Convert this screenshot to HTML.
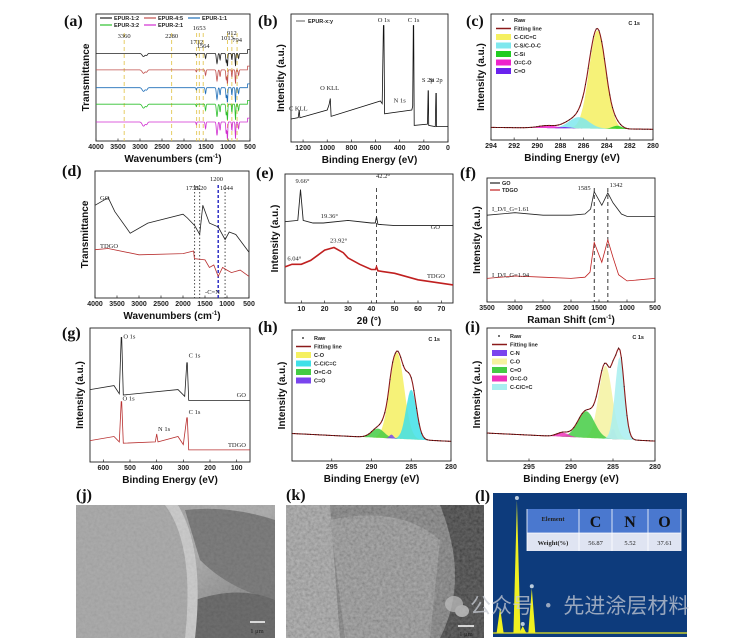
<!DOCTYPE html>
<html><head><meta charset="utf-8"><style>
html,body{margin:0;padding:0;background:#fff;}
svg{display:block;font-family:"Liberation Sans",Arial,sans-serif;}
.tk{font-size:7px;font-weight:bold;fill:#222;}
.ttl{font-size:10px;font-weight:bold;fill:#111;}
.lt{font-family:"Liberation Serif",serif;font-size:16px;font-weight:bold;fill:#111;}
.an{font-family:"Liberation Serif",serif;font-size:6.5px;fill:#222;}
.lg{font-size:5.5px;font-weight:bold;fill:#222;}
</style></head><body>
<svg id="fig" width="751" height="644" viewBox="0 0 751 644">
<defs>
<filter id="grain" x="0" y="0" width="100%" height="100%"><feTurbulence type="fractalNoise" baseFrequency="0.35" numOctaves="3" seed="4"/><feColorMatrix type="saturate" values="0"/><feComponentTransfer><feFuncA type="linear" slope="0" intercept="1"/></feComponentTransfer></filter>
<linearGradient id="jg" x1="0" y1="0" x2="1" y2="1"><stop offset="0" stop-color="#9a9a9a"/><stop offset="0.5" stop-color="#a8a8a8"/><stop offset="1" stop-color="#6a6a6a"/></linearGradient>
</defs>
<rect width="751" height="644" fill="#fff"/>
</svg>
<script>
// ---------- DATA ----------
// (a) FTIR EPUR
const aSeries=['EPUR-1:2','EPUR-4:5','EPUR-1:1','EPUR-3:2','EPUR-2:1'];
const aOffsets=[0.69,0.56,0.42,0.29,0.15];
const aDipPos=[2920,2850,1720,1510,1250,1180,1040,1013,912,830,760];
const aDipDepth=[0.025,0.015,0.015,0.04,0.08,0.05,0.07,0.1,0.05,0.1,0.04];
const aDipWidth=[30,20,8,10,14,10,10,8,8,8,10];
const aMarks=[3360,2280,1712,1653,1564,1013,912,794];
const aTicks=[4000,3500,3000,2500,2000,1500,1000,500];
// (b) XPS survey EPUR
const bX=[1300,1240,1232,1226,1000,985,975,968,560,545,535,531,525,300,292,287,284,280,170,165,162,160,105,100,97,95,0];
const bY=[0.18,0.19,0.25,0.19,0.25,0.29,0.34,0.2,0.32,0.3,0.91,0.91,0.22,0.25,0.28,0.91,0.91,0.13,0.14,0.4,0.4,0.13,0.12,0.38,0.38,0.12,0.12];
const bTicks=[1200,1000,800,600,400,200,0];
// (c) C1s EPUR
const cNames=['C-C/C=C','C-S/C-O-C','C-Si','O=C-O','C=O'];
const cCenters=[284.8,286.4,283.1,289.1,287.6];
const cHeights=[0.78,0.09,0.025,0.02,0.01];
const cWidths=[0.72,0.85,0.4,0.8,0.5];
const cTicks=[294,292,290,288,286,284,282,280];
// (d) FTIR GO/TDGO
const dGOx=[4000,3700,3550,3200,2800,2000,1900,1735,1620,1550,1400,1200,1044,950,800,500];
const dGOy=[0.73,0.79,0.68,0.51,0.59,0.66,0.63,0.57,0.5,0.73,0.59,0.56,0.46,0.52,0.5,0.36];
const dTDx=[4000,3700,3000,2000,1760,1740,1500,1400,1300,1200,1100,1000,900,700,500];
const dTDy=[0.38,0.39,0.34,0.35,0.37,0.31,0.3,0.24,0.26,0.17,0.24,0.22,0.2,0.22,0.17];
const dMarks=[1735,1620,1200,1044];
const dTicks=[4000,3500,3000,2500,2000,1500,1000,500];
// (e) XRD
const eGOx=[3,8.5,9.66,10.8,15,19.4,30,40,41.7,42.2,42.8,50,60,75];
const eGOy=[0.63,0.64,0.88,0.64,0.62,0.62,0.64,0.62,0.62,0.67,0.61,0.6,0.6,0.6];
const eTDx=[3,6,10,14,17,20,24,28,30,35,40,41.8,42.2,42.8,50,60,75];
const eTDy=[0.28,0.3,0.3,0.33,0.37,0.41,0.43,0.39,0.35,0.3,0.26,0.26,0.28,0.25,0.23,0.18,0.14];
const eTicks=[10,20,30,40,50,60,70];
// (f) Raman
const fGOx=[3500,3000,2500,2000,1750,1650,1585,1450,1342,1250,1100,1000,500];
const fGOy=[0.7,0.72,0.7,0.7,0.71,0.75,0.89,0.78,0.88,0.8,0.71,0.69,0.69];
const fTDx=[3500,3000,2500,2000,1750,1660,1585,1450,1342,1250,1150,1000,500];
const fTDy=[0.19,0.21,0.2,0.19,0.2,0.24,0.48,0.32,0.5,0.36,0.22,0.17,0.19];
const fTicks=[3500,3000,2500,2000,1500,1000,500];
// (g) Survey GO/TDGO
const gGOx=[650,560,540,533,531,525,320,295,287,285,280,50];
const gGOy=[0.54,0.57,0.51,0.93,0.93,0.5,0.54,0.49,0.74,0.74,0.46,0.46];
const gTDx=[650,560,540,533,531,525,405,400,395,320,300,287,285,280,50];
const gTDy=[0.16,0.19,0.15,0.45,0.45,0.14,0.15,0.21,0.15,0.19,0.13,0.33,0.33,0.09,0.09];
const gTicks=[600,500,400,300,200,100];
// (h) C1s GO
const hNames=['C-O','C-C/C=C','O=C-O','C=O'];
const hCenters=[286.8,285.0,289.2,287.5];
const hHeights=[0.66,0.38,0.07,0.03];
const hWidths=[0.9,0.65,0.8,0.25];
const hTicks=[295,290,285,280];
// (i) C1s TDGO
const iNames=['C-N','C-O','C=O','O=C-O','C-C/C=C'];
const iCenters=[285.0,285.9,288.2,291.0,284.2];
const iHeights=[0.08,0.55,0.2,0.03,0.62];
const iWidths=[0.25,0.8,1.0,0.7,0.55];
const iTicks=[295,290,285,280];
// (l) EDS
const lElements=['C','N','O'];
const lWeights=['56.87','5.52','37.61'];
const lPeakE=[0.11,0.37,0.46,0.6];
const lPeakH=[0.18,0.95,0.05,0.32];

// ---------- HELPERS ----------
const NS='http://www.w3.org/2000/svg';
const svg=document.getElementById('fig');
function mk(tag,attrs,parent){const e=document.createElementNS(NS,tag);for(const k in attrs)e.setAttribute(k,attrs[k]);(parent||svg).appendChild(e);return e;}
function txt(s,x,y,cls,parent,anchor){const t=mk('text',{x:x,y:y,class:cls,'text-anchor':anchor||'start'},parent);t.textContent=s;return t;}
function gauss(x,c,h,w){return h*Math.exp(-0.5*((x-c)/w)*((x-c)/w));}
function panel(p){
  const g=mk('g',{});
  
  
  const sx=v=>p.x0+(v-p.xmin)/(p.xmax-p.xmin)*(p.x1-p.x0);
  const sy=f=>p.y1-f*(p.y1-p.y0);
  const fr=mk('rect',{x:p.x0,y:p.y0,width:p.x1-p.x0,height:p.y1-p.y0,fill:'none',stroke:'#222','stroke-width':0.9},g);
  
  
  p.ticks.forEach(t=>{
    const x=sx(t);
    mk('line',{x1:x,x2:x,y1:p.y1,y2:p.y1-2.5,stroke:'#222','stroke-width':0.7},g);
    const tl=txt(String(t),x,p.y1+8,'tk',g,'middle');
    
    
  });
  if(p.xtitle){const xt=txt(p.xtitle,(p.x0+p.x1)/2,p.y1+21,'ttl',g,'middle');
    
    
    if(p.sup){xt.textContent=p.xtitle;const ts=mk('tspan',{'font-size':'6','dy':'-4'},xt);ts.textContent=p.sup;const t2=mk('tspan',{'dy':'4'},xt);t2.textContent=')';}}
  const yt=txt(p.ytitle,0,0,'ttl',g,'middle');
  yt.setAttribute('transform','translate('+(p.x0-7)+','+((p.y0+p.y1)/2)+') rotate(-90)');
  
  
  const lt=txt(p.letter,p.lx,p.ly,'lt',g);
  
  
  return {g,sx,sy};
}
function poly(g,xs,ys,sx,sy,color,w,name){
  const pts=xs.map((x,i)=>sx(x).toFixed(1)+','+sy(ys[i]).toFixed(1)).join(' ');
  const l=mk('polyline',{points:pts,fill:'none',stroke:color,'stroke-width':w||0.8},g);
  
  
  return l;
}
function vline(g,x,y0,y1,color,dash,w,name){
  const l=mk('line',{x1:x,x2:x,y1:y0,y2:y1,stroke:color,'stroke-width':w||0.8,'stroke-dasharray':dash},g);
  
  
}
function xps(P,centers,heights,widths,colors,names,base0,base1,xmin,xmax){
  const N=120;const xs=[];for(let i=0;i<=N;i++)xs.push(xmin+(xmax-xmin)*i/N);
  const base=x=>base0+(base1-base0)*(x-xmin)/(xmax-xmin);
  const total=xs.map(x=>base(x)+centers.reduce((s,c,k)=>s+gauss(x,c,heights[k],widths[k]),0));
  centers.forEach((c,k)=>{
    let d='M'+P.sx(xs[0])+','+P.sy(base(xs[0]));
    xs.forEach(x=>{d+=' L'+P.sx(x).toFixed(1)+','+P.sy(base(x)+gauss(x,c,heights[k],widths[k])).toFixed(1);});
    for(let i=N;i>=0;i--)d+=' L'+P.sx(xs[i]).toFixed(1)+','+P.sy(base(xs[i])).toFixed(1);
    const a=mk('path',{d:d+'Z',fill:colors[k],'fill-opacity':0.85,stroke:'none'},P.g);
    
    
  });
  poly(P.g,xs,total,P.sx,P.sy,'#8b1a1a',1.1,'fitting-line');
  xs.forEach((x,i)=>{if(i%2===0){const d=mk('circle',{cx:P.sx(x),cy:P.sy(total[i]),r:0.5,fill:'#111'},P.g);}});
}
function xpsLegend(P,x,y,names,colors){
  const it=[['Raw',null],['Fitting line','line']].concat(names.map((n,k)=>[n,colors[k]]));
  it.forEach((e,i)=>{
    const yy=y+i*8.5;
    const g=mk('g',{},P.g);
    
    
    if(e[1]===null)mk('circle',{cx:x+7,cy:yy-2,r:0.9,fill:'#111'},g);
    else if(e[1]==='line')mk('line',{x1:x,x2:x+15,y1:yy-2,y2:yy-2,stroke:'#8b1a1a','stroke-width':1.5},g);
    else mk('rect',{x:x,y:yy-5,width:15,height:6,fill:e[1]},g);
    txt(e[0],x+18,yy,'lg',g);
  });
}

// ---------- (a) ----------
(function(){
  const P=panel({name:'panel-a-ftir-epur',x0:96,x1:250,y0:14,y1:141,xmin:4000,xmax:500,ticks:aTicks,xtitle:'Wavenumbers (cm',sup:'-1',ytitle:'Transmittance',letter:'(a)',lx:64,ly:26});
  const colors=['#222','#c0504d','#1f6fb8','#2ec02e','#d12fd1'];
  aMarks.forEach(m=>vline(P.g,P.sx(m),33,141,'#e0c040','4,3',0.8,'reference-line-'+m));
  const labs=[[3360,'3360',38],[2280,'2280',38],[1712,'1712',44],[1653,'1653',30],[1564,'1564',48],[1013,'1013',40],[912,'912',35],[794,'794',42]];
  labs.forEach(l=>{const t=txt(l[1],P.sx(l[0]),l[2],'an',P.g,'middle');});
  const xs=[];for(let w=4000;w>=500;w-=5)xs.push(w);
  aSeries.forEach((s,k)=>{
    const ys=xs.map(x=>aOffsets[k]-aDipPos.reduce((a,c,j)=>a+gauss(x,c,aDipDepth[j]*(1+0.08*k),aDipWidth[j]),0)+(x<560?0.03:0));
    poly(P.g,xs,ys,P.sx,P.sy,colors[k],0.8,'series-'+s.toLowerCase().replace(':','-'));
  });
  aSeries.forEach((s,k)=>{
    const col=k<3?k:k-3,row=k<3?0:1;
    const x=100+col*44,y=20+row*7;
    const g=mk('g',{},P.g);
    
    
    mk('line',{x1:x,x2:x+12,y1:y-2,y2:y-2,stroke:colors[k],'stroke-width':1.2},g);
    txt(s,x+14,y,'lg',g);
  });
})();

// ---------- (b) ----------
(function(){
  const P=panel({name:'panel-b-xps-survey-epur',x0:291,x1:448,y0:14,y1:142,xmin:1300,xmax:0,ticks:bTicks,xtitle:'Binding Energy (eV)',ytitle:'Intensity (a.u.)',letter:'(b)',lx:258,ly:26});
  poly(P.g,bX,bY,P.sx,P.sy,'#111',0.8,'survey-line');
  const lg=mk('g',{},P.g);
  mk('line',{x1:296,x2:305,y1:21,y2:21,stroke:'#777','stroke-width':1.2},lg);txt('EPUR-x:y',308,23,'lg',lg);
  [['C KLL',1240,0.24],['O KLL',980,0.4],['O 1s',532,0.93],['N 1s',400,0.3],['C 1s',285,0.93],['S 2p',168,0.46],['Si 2p',100,0.46]].forEach(l=>{
    const t=txt(l[0],P.sx(l[1]),P.sy(l[2])-1,'an',P.g,'middle');});
})();

// ---------- (c) ----------
(function(){
  const P=panel({name:'panel-c-xps-c1s-epur',x0:491,x1:653,y0:14,y1:140,xmin:294,xmax:280,ticks:cTicks,xtitle:'Binding Energy (eV)',ytitle:'Intensity (a.u.)',letter:'(c)',lx:466,ly:26});
  const cols=['#f5f060','#7fe8ee','#22cc22','#ee22cc','#6a22ee'];
  xps(P,cCenters,cHeights,cWidths,cols,cNames,0.1,0.085,294,280);
  xpsLegend(P,496,22,cNames,cols);
  txt('C 1s',640,25,'lg',P.g,'end');
})();

// ---------- (d) ----------
(function(){
  const P=panel({name:'panel-d-ftir-go-tdgo',x0:95,x1:249,y0:171,y1:298,xmin:4000,xmax:500,ticks:dTicks,xtitle:'Wavenumbers (cm',sup:'-1',ytitle:'Transmittance',letter:'(d)',lx:62,ly:176});
  dMarks.forEach(m=>vline(P.g,P.sx(m),185,298,m===1200?'#2020c0':'#222',m===1200?'3,2':'1.5,2',m===1200?1.4:0.8,'reference-line-'+m));
  poly(P.g,dGOx,dGOy,P.sx,P.sy,'#222',0.8,'series-go');
  poly(P.g,dTDx,dTDy,P.sx,P.sy,'#b83030',0.8,'series-tdgo');
  [['1735',1790,190],['1620',1610,190],['1044',1010,190]].forEach(l=>{const t=txt(l[0],P.sx(l[1]),l[2],'an',P.g,'middle');});
  const b=txt('1200',P.sx(1240),181,'an',P.g,'middle');b.setAttribute('fill','#2020c0');
  txt('GO',100,200,'an',P.g);txt('TDGO',100,248,'an',P.g);txt('-C=N',P.sx(1330),294,'an',P.g,'middle');
})();

// ---------- (e) ----------
(function(){
  const P=panel({name:'panel-e-xrd',x0:285,x1:453,y0:174,y1:303,xmin:3,xmax:75,ticks:eTicks,xtitle:'2θ (°)',ytitle:'Intensity (a.u.)',letter:'(e)',lx:256,ly:178});
  vline(P.g,P.sx(42.2),188,303,'#222','4,3',0.8,'reference-line-42-2');
  poly(P.g,eGOx,eGOy,P.sx,P.sy,'#222',0.9,'series-go');
  poly(P.g,eTDx,eTDy,P.sx,P.sy,'#c02020',1.6,'series-tdgo');
  [['9.66°',10.5,0.93],['19.36°',22,0.66],['42.2°',45,0.97],['23.92°',26,0.47],['6.04°',7,0.33]].forEach(l=>{const t=txt(l[0],P.sx(l[1]),P.sy(l[2]),'an',P.g,'middle');});
  txt('GO',440,229,'an',P.g,'end');txt('TDGO',445,278,'an',P.g,'end');
})();

// ---------- (f) ----------
(function(){
  const P=panel({name:'panel-f-raman',x0:487,x1:655,y0:178,y1:302,xmin:3500,xmax:500,ticks:fTicks,xtitle:'Raman Shift (cm',sup:'-1',ytitle:'Intensity (a.u.)',letter:'(f)',lx:460,ly:178});
  vline(P.g,P.sx(1585),188,302,'#222','4,3',0.9,'reference-line-1585');
  vline(P.g,P.sx(1342),188,302,'#222','4,3',0.9,'reference-line-1342');
  poly(P.g,fGOx,fGOy,P.sx,P.sy,'#222',0.8,'series-go');
  poly(P.g,fTDx,fTDy,P.sx,P.sy,'#c02020',0.8,'series-tdgo');
  const l1=mk('g',{},P.g);
  mk('line',{x1:490,x2:500,y1:183,y2:183,stroke:'#222','stroke-width':1.2},l1);txt('GO',502,185,'lg',l1);
  const l2=mk('g',{},P.g);
  mk('line',{x1:490,x2:500,y1:190,y2:190,stroke:'#c02020','stroke-width':1.2},l2);txt('TDGO',502,192,'lg',l2);
  txt('1585',P.sx(1650),190,'an',P.g,'end');txt('1342',P.sx(1310),187,'an',P.g,'start');
  txt('I_D/I_G=1.61',492,211,'an',P.g);txt('I_D/I_G=1.94',492,277,'an',P.g);
})();

// ---------- (g) ----------
(function(){
  const P=panel({name:'panel-g-xps-survey-go-tdgo',x0:90,x1:250,y0:328,y1:462,xmin:650,xmax:50,ticks:gTicks,xtitle:'Binding Energy (eV)',ytitle:'Intensity (a.u.)',letter:'(g)',lx:62,ly:338});
  poly(P.g,gGOx,gGOy,P.sx,P.sy,'#222',0.8,'series-go');
  poly(P.g,gTDx,gTDy,P.sx,P.sy,'#b83030',0.8,'series-tdgo');
  [['O 1s',525,0.92],['C 1s',280,0.78],['O 1s',528,0.46],['N 1s',395,0.23],['C 1s',280,0.36]].forEach(l=>{const t=txt(l[0],P.sx(l[1]),P.sy(l[2]),'an',P.g,'start');});
  txt('GO',246,397,'an',P.g,'end');txt('TDGO',246,447,'an',P.g,'end');
})();

// ---------- (h) ----------
(function(){
  const P=panel({name:'panel-h-xps-c1s-go',x0:292,x1:451,y0:330,y1:461,xmin:300,xmax:280,ticks:hTicks,xtitle:'Binding Energy (eV)',ytitle:'Intensity (a.u.)',letter:'(h)',lx:258,ly:332});
  const cols=['#f5f060','#40e0e8','#44cc44','#7a44ee'];
  xps(P,hCenters,hHeights,hWidths,cols,hNames,0.21,0.15,300,280);
  xpsLegend(P,296,340,hNames,cols);
  txt('C 1s',440,341,'lg',P.g,'end');
})();

// ---------- (i) ----------
(function(){
  const P=panel({name:'panel-i-xps-c1s-tdgo',x0:487,x1:655,y0:328,y1:461,xmin:300,xmax:280,ticks:iTicks,xtitle:'Binding Energy (eV)',ytitle:'Intensity (a.u.)',letter:'(i)',lx:465,ly:332});
  const cols=['#7a44ee','#f5f2a0','#44cc44','#ee33bb','#a8eef0'];
  xps(P,iCenters,iHeights,iWidths,cols,iNames,0.21,0.15,300,280);
  xpsLegend(P,492,338,iNames,cols);
  txt('C 1s',644,339,'lg',P.g,'end');
})();

// ---------- (j) SEM ----------
(function(){
  const g=mk('g',{});
  mk('rect',{x:76,y:505,width:199,height:133,fill:'url(#jg)'},g);
  mk('path',{d:'M76,505 L180,505 Q200,560 185,638 L76,638Z',fill:'#a4a4a4'},g);
  mk('path',{d:'M185,510 Q230,505 275,520 L275,600 Q230,590 200,560Z',fill:'#707070'},g);
  mk('path',{d:'M195,600 Q240,585 275,600 L275,638 L190,638Z',fill:'#5e5e5e'},g);
  mk('path',{d:'M165,505 Q195,545 185,638 L195,638 Q205,550 178,505Z',fill:'#c8c8c8'},g);
  mk('rect',{x:76,y:505,width:199,height:133,filter:'url(#grain)',opacity:0.12},g);
  const l=txt('(j)',76,500,'lt',g);
  mk('line',{x1:250,x2:265,y1:622,y2:622,stroke:'#fff','stroke-width':1.5},g);
  const s=txt('1 μm',257,633,'an',g,'middle');s.setAttribute('fill','#fff');s.setAttribute('font-size','9');
})();

// ---------- (k) SEM ----------
(function(){
  const g=mk('g',{});
  mk('rect',{x:286,y:505,width:198,height:133,fill:'#6e6e6e'},g);
  mk('path',{d:'M286,505 L330,505 L340,638 L286,638Z',fill:'#9a9a9a'},g);
  mk('path',{d:'M330,520 Q400,505 440,540 L430,638 L345,638Z',fill:'#8a8a8a'},g);
  mk('path',{d:'M440,505 L484,505 L484,638 L440,638 Q470,580 440,505Z',fill:'#222'},g);
  mk('rect',{x:286,y:505,width:198,height:133,filter:'url(#grain)',opacity:0.35},g);
  const l=txt('(k)',286,500,'lt',g);
  mk('line',{x1:458,x2:474,y1:626,y2:626,stroke:'#fff','stroke-width':1.5},g);
  const s=txt('1 μm',466,636,'an',g,'middle');s.setAttribute('fill','#fff');s.setAttribute('font-size','9');
})();

// ---------- (l) EDS ----------
(function(){
  const g=mk('g',{});
  const x0=493,x1=687,y0=493,y1=633;
  mk('rect',{x:x0,y:y0,width:x1-x0,height:637-y0,fill:'#0d3b7c'},g);
  const sx=e=>x0+e*(x1-x0)/3,sy=h=>y1-h*(y1-y0);
  lPeakE.forEach((e,i)=>{
    const p=mk('path',{d:'M'+(sx(e)-3.5)+','+y1+' L'+sx(e)+','+sy(lPeakH[i])+' L'+(sx(e)+3.5)+','+y1+'Z',fill:'#f0f020'},g);
    
    if(i>0)mk('circle',{cx:sx(e),cy:sy(lPeakH[i])-2,r:2,fill:'#bcd'},g);
  });
  mk('line',{x1:x0,x2:x1,y1:y1,y2:y1,stroke:'#e8e820','stroke-width':1.2},g);
  const l=txt('(l)',475,501,'lt',g);
  const t=mk('g',{},g);
  const cx=[527,579,612,648,681];
  mk('rect',{x:527,y:509,width:154,height:24,fill:'#4a78cf'},t);
  mk('rect',{x:527,y:533,width:154,height:18,fill:'#dfe4f2'},t);
  cx.forEach(x=>mk('line',{x1:x,x2:x,y1:509,y2:551,stroke:'#fff','stroke-width':0.8},t));
  mk('line',{x1:527,x2:681,y1:533,y2:533,stroke:'#fff','stroke-width':0.8},t);
  const h=txt('Element',553,521,'an',t,'middle');h.setAttribute('font-weight','bold');h.setAttribute('font-size','7');h.setAttribute('fill','#102040');
  const w=txt('Weight(%)',553,545,'an',t,'middle');w.setAttribute('font-weight','bold');w.setAttribute('font-size','7');
  lElements.forEach((e,i)=>{
    const m=(cx[i+1]+cx[i+2])/2;
    const a=txt(e,m,527,'lt',t,'middle');a.setAttribute('fill','#fff');
    const b=txt(lWeights[i],m,545,'an',t,'middle');b.setAttribute('font-size','8');
  });
})();

// watermark
(function(){
  const g=mk('g',{opacity:0.75});
  mk('ellipse',{cx:454,cy:604,rx:9,ry:8,fill:'#bbb'},g);
  mk('ellipse',{cx:462,cy:611,rx:7,ry:6,fill:'#ccc'},g);
  const t=mk('text',{x:470,y:613,'font-size':'21','font-family':'"Noto Sans CJK SC","WenQuanYi Zen Hei",sans-serif',fill:'#c8ccd4'},g);
  t.textContent='公众号 · 先进涂层材料';
})();
</script>
</body></html>
